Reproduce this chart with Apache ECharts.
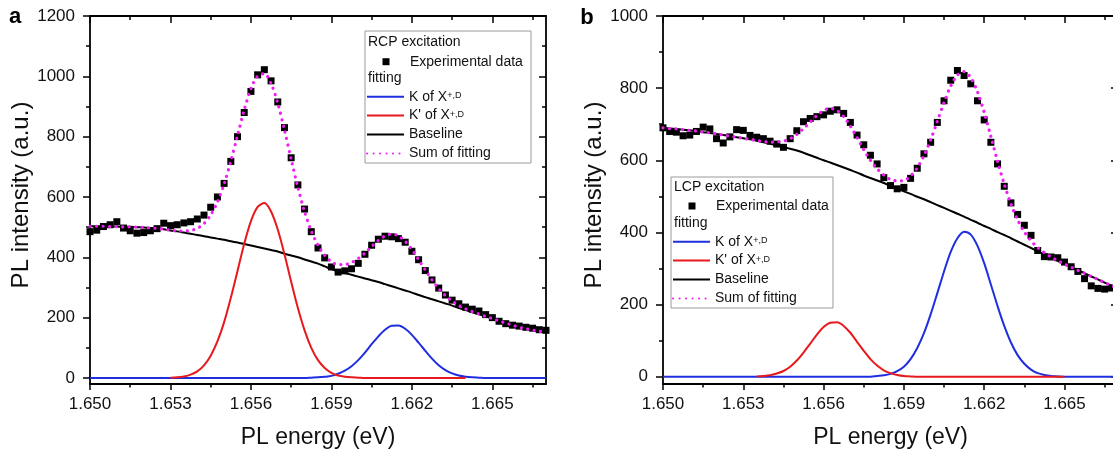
<!DOCTYPE html>
<html>
<head>
<meta charset="utf-8">
<script src="https://cdn.jsdelivr.net/npm/echarts@6/dist/echarts.min.js"></script>
<style>
  html, body { margin: 0; padding: 0; background: #ffffff; }
  #chart { width: 1113px; height: 452px; }
</style>
</head>
<body>
<div id="chart"></div>
<script>
// Photon energy grid (eV) shared by the measured spectra and the fit curves
const energy = [
  1.65000, 1.65025, 1.65050, 1.65075, 1.65100, 1.65125, 1.65150, 1.65175, 1.65200, 1.65225,
  1.65250, 1.65275, 1.65300, 1.65325, 1.65350, 1.65375, 1.65400, 1.65425, 1.65450, 1.65475,
  1.65500, 1.65525, 1.65550, 1.65575, 1.65600, 1.65625, 1.65650, 1.65675, 1.65700, 1.65725,
  1.65750, 1.65775, 1.65800, 1.65825, 1.65850, 1.65875, 1.65900, 1.65925, 1.65950, 1.65975,
  1.66000, 1.66025, 1.66050, 1.66075, 1.66100, 1.66125, 1.66150, 1.66175, 1.66200, 1.66225,
  1.66250, 1.66275, 1.66300, 1.66325, 1.66350, 1.66375, 1.66400, 1.66425, 1.66450, 1.66475,
  1.66500, 1.66525, 1.66550, 1.66575, 1.66600, 1.66625, 1.66650, 1.66675, 1.66700
];

const energyTicks = [1.650, 1.653, 1.656, 1.659, 1.662, 1.665];
const energyMinorTicks = [1.6515, 1.6545, 1.6575, 1.6605, 1.6635, 1.6665];
const intensityTicksA = [0, 200, 400, 600, 800, 1000, 1200];
const intensityMinorTicksA = [100, 300, 500, 700, 900, 1100];
const intensityTicksB = [0, 200, 400, 600, 800, 1000];
const intensityMinorTicksB = [100, 300, 500, 700, 900];

// Panel a: RCP excitation
const rcpData = [
  485, 490, 502, 508, 518, 497, 488, 480, 482, 488,
  495, 513, 505, 508, 514, 518, 527, 540, 566, 600,
  645, 718, 800, 880, 950, 1005, 1022, 985, 915, 830,
  730, 640, 560, 485, 431, 398, 368, 351, 355, 362,
  380, 410, 440, 460, 470, 468, 462, 450, 420, 392,
  356, 325, 298, 275, 258, 246, 235, 228, 222, 210,
  200, 188, 180, 175, 172, 168, 165, 160, 158
];
const rcpBaseline = [
  503, 503, 503, 502, 502, 501, 501, 500, 499, 497,
  496, 493, 489, 486, 482, 478, 474, 470, 466, 462,
  458, 453, 449, 444, 439, 434, 429, 424, 419, 412,
  406, 400, 393, 386, 379, 370, 361, 354, 348, 342,
  336, 330, 324, 318, 311, 304, 297, 290, 283, 275,
  268, 261, 254, 247, 240, 232, 225, 218, 211, 204,
  197, 189, 182, 175, 168, 163, 159, 155, 152
];
const rcpPeakK = [
  0, 0, 0, 0, 0, 0, 0, 0, 0, 0,
  0, 0, 0, 0, 0, 0, 0, 0, 0, 0,
  0, 0, 0, 0, 0, 0, 0, 0, 0, 0,
  0, 0, 0, 1, 2, 4, 7, 14, 24, 39,
  59, 84, 112, 138, 160, 173, 174, 163, 143, 117,
  90, 64, 42, 26, 15, 8, 4, 2, 1, 0,
  0, 0, 0, 0, 0, 0, 0, 0, 0
];
const rcpPeakKPrime = [
  null, null, null, null, null, null, null, null, null, null,
  null, null, 1, 2, 5, 11, 22, 42, 74, 121,
  185, 266, 355, 445, 520, 567, 580, 552, 492, 410,
  319, 232, 158, 100, 59, 33, 17, 8, 4, 2,
  1, 0, 0, 0, 0, 0, 0, 0, 0, 0,
  0, 0, 0, 0, 0, 0, 0, null, null, null,
  null, null, null, null, null, null, null, null, null
];
const rcpSum = [
  503, 503, 503, 502, 502, 501, 501, 500, 499, 497,
  496, 493, 490, 488, 487, 489, 496, 512, 540, 583,
  643, 719, 804, 889, 959, 1001, 1009, 976, 911, 822,
  725, 632, 551, 487, 440, 407, 385, 376, 376, 383,
  396, 414, 436, 456, 471, 477, 471, 453, 426, 392,
  358, 325, 296, 273, 255, 240, 229, 220, 212, 204,
  197, 189, 182, 175, 168, 163, 159, 155, 152
];

// Panel b: LCP excitation
const lcpData = [
  690, 680, 678, 668, 670, 680, 692, 687, 660, 648,
  665, 685, 683, 669, 664, 660, 653, 645, 636, 660,
  682, 707, 716, 721, 726, 736, 740, 730, 705, 670,
  643, 614, 590, 552, 530, 521, 525, 550, 578, 618,
  650, 705, 765, 822, 849, 835, 812, 765, 712, 650,
  590, 528, 482, 450, 420, 392, 350, 333, 332, 330,
  318, 305, 292, 272, 252, 245, 243, 246, 246
];
const lcpBaseline = [
  690, 688, 687, 685, 683, 681, 678, 676, 673, 670,
  667, 664, 661, 658, 654, 650, 646, 642, 637, 632,
  627, 621, 614, 607, 600, 594, 587, 580, 573, 566,
  558, 551, 544, 537, 529, 522, 514, 507, 499, 492,
  484, 476, 468, 460, 452, 444, 435, 427, 418, 410,
  401, 393, 384, 375, 366, 357, 348, 339, 330, 321,
  312, 304, 295, 287, 278, 270, 261, 253, 245
];
const lcpPeakK = [
  0, 0, 0, 0, 0, 0, 0, 0, 0, 0,
  0, 0, 0, 0, 0, 0, 0, 0, 0, 0,
  0, 0, 0, 0, 0, 0, 0, 0, 0, 0,
  0, 0, 2, 4, 8, 16, 28, 49, 80, 121,
  173, 232, 292, 346, 384, 402, 394, 363, 315, 256,
  196, 141, 95, 60, 36, 20, 10, 5, 2, 1,
  0, 0, 0, 0, 0, 0, 0, 0, 0
];
const lcpPeakKPrime = [
  null, null, null, null, null, null, null, null, null, null,
  null, null, null, null, 1, 2, 4, 9, 16, 28,
  45, 67, 92, 117, 138, 150, 151, 141, 122, 97,
  72, 49, 31, 18, 10, 5, 2, 1, 0, 0,
  0, 0, 0, 0, 0, 0, 0, 0, 0, 0,
  0, 0, 0, 0, 0, 0, 0, 0, 0, 0,
  0, null, null, null, null, null, null, null, null
];
const lcpSum = [
  690, 688, 687, 685, 683, 681, 678, 676, 673, 670,
  667, 664, 661, 658, 655, 652, 650, 651, 653, 660,
  672, 688, 706, 724, 738, 744, 738, 721, 695, 663,
  630, 600, 577, 559, 547, 543, 544, 557, 579, 613,
  657, 708, 760, 806, 836, 846, 829, 790, 733, 666,
  597, 534, 479, 435, 402, 377, 358, 344, 332, 322,
  312, 304, 295, 287, 278, 270, 261, 253, 245
];

const FONT = '"Liberation Sans", Arial, Helvetica, sans-serif';
const INK = '#111111';
const AXIS_W = 1.8;

const NAME_DATA = 'Experimental data';
const NAME_K = 'K of X+,D';
const NAME_KP = "K' of X+,D";
const NAME_BASE = 'Baseline';
const NAME_SUM = 'Sum of fitting';

function pairs(values) {
  return energy.map((e, i) => [e, values[i]]).filter(p => p[1] !== null);
}

const panels = [
  {
    grid: { left: 90, top: 16, width: 456, height: 368 },
    yMax: 1200, yTicks: intensityTicksA, yMinor: intensityMinorTicksA,
    data: rcpData, baseline: rcpBaseline, k: rcpPeakK, kp: rcpPeakKPrime, sum: rcpSum,
    header: 'RCP excitation',
    box: { x: 365, y: 31, width: 166, height: 132 },
    legendX: 366, headerX: 368, headerY: 41.7, dataY: 61.7, fittingY: 78.3, fitsY: 96.7,
    letter: 'a', letterX: 15, letterY: 17
  },
  {
    grid: { left: 663, top: 16, width: 455, height: 368 },
    yMax: 1000, yTicks: intensityTicksB, yMinor: intensityMinorTicksB,
    data: lcpData, baseline: lcpBaseline, k: lcpPeakK, kp: lcpPeakKPrime, sum: lcpSum,
    header: 'LCP excitation',
    box: { x: 671, y: 177, width: 162, height: 131 },
    legendX: 672, headerX: 674, headerY: 186.7, dataY: 206, fittingY: 223, fitsY: 241.7,
    letter: 'b', letterX: 587, letterY: 18
  }
];

const tickLine = { color: '#000', width: 1.5 };
const axisLine = { show: true, onZero: false, lineStyle: { color: '#000', width: AXIS_W } };

const grids = [], xAxes = [], yAxes = [], series = [], legends = [], graphics = [];

panels.forEach((p, g) => {
  // Plot rectangles are placed exactly; panel b runs past the right edge of the canvas
  grids.push(Object.assign({ containLabel: false, outerBoundsMode: 'none' }, p.grid));

  const xBase = {
    type: 'value', gridIndex: g, min: 1.650, max: 1.667,
    splitLine: { show: false }, axisLabel: { show: false },
    axisLine: { show: false, onZero: false }, axisTick: { show: false }
  };
  xAxes.push(
    Object.assign({}, xBase, {
      position: 'bottom', axisLine,
      axisTick: { show: true, length: 6, lineStyle: tickLine, customValues: energyTicks },
      axisLabel: {
        show: true, customValues: energyTicks, formatter: v => v.toFixed(3),
        margin: 12, fontSize: 17, color: INK, fontFamily: FONT
      },
      name: 'PL energy (eV)', nameLocation: 'middle', nameGap: 42,
      nameTextStyle: { fontSize: 23, color: INK, fontFamily: FONT }
    }),
    Object.assign({}, xBase, {
      position: 'bottom',
      axisTick: { show: true, length: 3.5, lineStyle: tickLine, customValues: energyMinorTicks }
    }),
    Object.assign({}, xBase, {
      position: 'top', axisLine,
      axisTick: { show: true, inside: true, length: 7, lineStyle: tickLine, customValues: energyTicks }
    }),
    Object.assign({}, xBase, {
      position: 'top',
      axisTick: { show: true, inside: true, length: 4, lineStyle: tickLine, customValues: energyMinorTicks }
    })
  );

  const yBase = {
    type: 'value', gridIndex: g, min: -20, max: p.yMax,
    splitLine: { show: false }, axisLabel: { show: false },
    axisLine: { show: false, onZero: false }, axisTick: { show: false }
  };
  yAxes.push(
    Object.assign({}, yBase, {
      position: 'left', axisLine,
      axisTick: { show: true, length: 7, lineStyle: tickLine, customValues: p.yTicks },
      axisLabel: {
        show: true, customValues: p.yTicks, margin: 15, formatter: v => String(v),
        fontSize: 17, color: INK, fontFamily: FONT
      },
      name: 'PL intensity (a.u.)', nameLocation: 'middle', nameGap: 56,
      nameTextStyle: { fontSize: 24, color: INK, fontFamily: FONT, padding: [0, 0, 0, 10] }
    }),
    Object.assign({}, yBase, {
      position: 'left',
      axisTick: { show: true, length: 4, lineStyle: tickLine, customValues: p.yMinor }
    }),
    Object.assign({}, yBase, {
      position: 'right', axisLine,
      axisTick: { show: true, inside: true, length: 7, lineStyle: tickLine, customValues: p.yTicks }
    }),
    Object.assign({}, yBase, {
      position: 'right',
      axisTick: { show: true, inside: true, length: 4, lineStyle: tickLine, customValues: p.yMinor }
    })
  );

  const xi = g * 4, yi = g * 4;
  const lineBase = {
    type: 'line', xAxisIndex: xi, yAxisIndex: yi, showSymbol: false, symbol: 'none',
    smooth: 0.3, animation: false, silent: true
  };
  series.push(
    {
      type: 'scatter', name: NAME_DATA, xAxisIndex: xi, yAxisIndex: yi,
      data: pairs(p.data), symbol: 'rect', symbolSize: 7,
      itemStyle: { color: '#000', opacity: 1 }, z: 2, animation: false, silent: true
    },
    Object.assign({}, lineBase, {
      name: NAME_BASE, data: pairs(p.baseline), z: 3,
      lineStyle: { color: '#000', width: 2 }, itemStyle: { color: '#000' }
    }),
    Object.assign({}, lineBase, {
      name: NAME_K, data: pairs(p.k), z: 4,
      lineStyle: { color: '#1f2ee0', width: 2 }, itemStyle: { color: '#1f2ee0' }
    }),
    Object.assign({}, lineBase, {
      name: NAME_KP, data: pairs(p.kp), z: 5,
      lineStyle: { color: '#e8191c', width: 2 }, itemStyle: { color: '#e8191c' }
    }),
    Object.assign({}, lineBase, {
      name: NAME_SUM, data: pairs(p.sum), z: 6,
      lineStyle: { color: '#f01ef0', width: 3.2, type: [0.1, 6.4], cap: 'round' },
      itemStyle: { color: '#f01ef0' }
    })
  );

  // Legend: measured points (small square centred in the key slot)
  legends.push({
    show: true, orient: 'vertical', left: p.legendX + 16.5, top: p.dataY - 8, padding: 0,
    data: [NAME_DATA], icon: 'rect', itemWidth: 7, itemHeight: 7,
    selectedMode: false,
    itemStyle: { color: '#000', opacity: 1 },
    textStyle: { fontSize: 14, color: INK, fontFamily: FONT, lineHeight: 16, padding: [0, 0, 0, 15.5] }
  });
  // Legend: fit components (line keys only)
  legends.push({
    show: true, orient: 'vertical', left: p.legendX, top: p.fitsY - 7, padding: 0,
    itemGap: 4.9, data: [NAME_K, NAME_KP, NAME_BASE, NAME_SUM], itemWidth: 37, itemHeight: 14,
    selectedMode: false,
    itemStyle: { color: 'rgba(0,0,0,0)', borderWidth: 0, opacity: 0 },
    formatter: name => name.endsWith('+,D')
      ? '{n|' + name.slice(0, -3) + '}{sup|+,D}'
      : '{n|' + name + '}',
    textStyle: {
      color: INK, fontFamily: FONT, fontSize: 14,
      rich: {
        n: { fontSize: 14, fontFamily: FONT, color: INK },
        sup: { fontSize: 9, lineHeight: 9, padding: [1, 0, 0, 0], verticalAlign: 'top', fontFamily: FONT, color: INK }
      }
    }
  });

  graphics.push(
    {
      type: 'rect', z: 100, silent: true,
      shape: p.box,
      style: { fill: 'rgba(255,255,255,0)', stroke: '#9a9a9a', lineWidth: 1 }
    },
    {
      type: 'text', z: 100, silent: true, x: p.headerX, y: p.headerY,
      style: { text: p.header, fontSize: 14, fontFamily: FONT, fill: INK, verticalAlign: 'middle' }
    },
    {
      type: 'text', z: 100, silent: true, x: p.headerX, y: p.fittingY,
      style: { text: 'fitting', fontSize: 14, fontFamily: FONT, fill: INK, verticalAlign: 'middle' }
    },
    {
      type: 'text', z: 100, silent: true, x: p.letterX, y: p.letterY,
      style: {
        text: p.letter, fontSize: 22, fontWeight: 'bold', fontFamily: FONT, fill: '#000',
        align: 'center', verticalAlign: 'middle'
      }
    }
  );
});

const chart = echarts.init(document.getElementById('chart'), null, { renderer: 'canvas' });
chart.setOption({
  animation: false,
  backgroundColor: '#ffffff',
  grid: grids,
  xAxis: xAxes,
  yAxis: yAxes,
  legend: legends,
  series: series,
  graphic: graphics
});
</script>
</body>
</html>
